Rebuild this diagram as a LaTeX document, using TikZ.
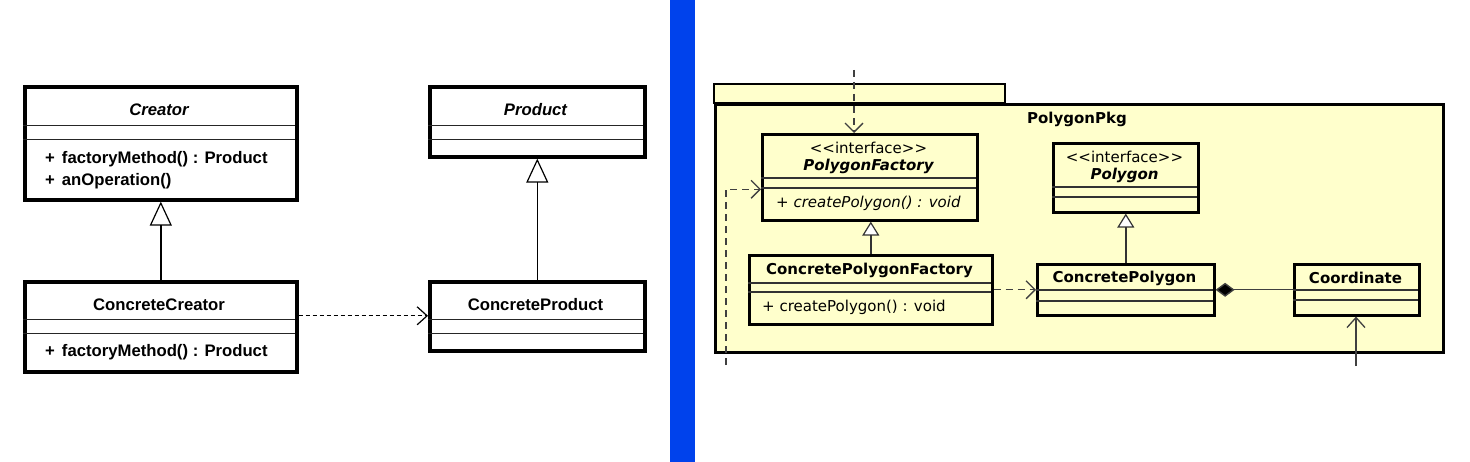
\documentclass[tikz,border=0pt]{standalone}
\usepackage{fontspec}
\setmainfont{Liberation Sans}
\newfontfamily\dvs{DejaVu Sans}
\usetikzlibrary{arrows.meta}
\definecolor{barblue}{RGB}{0,66,236}
\definecolor{pkgfill}{RGB}{255,255,204}
\begin{document}
\begin{tikzpicture}[x=1pt,y=-1pt,
  lbox/.style={draw=black, line width=3.6pt, fill=white, inner sep=0pt, anchor=north west},
  rbox/.style={draw=black, line width=2.6pt, fill=pkgfill, inner sep=0pt, anchor=north west},
  sepL/.style={line width=1pt, black!85},
  sepR/.style={line width=1.1pt, black!80},
  ltext/.style={inner sep=0pt, font=\fontsize{16.7}{20}\selectfont\bfseries},
  rtext/.style={inner sep=0pt, font=\dvs\fontsize{15}{18}\selectfont},
  rbold/.style={inner sep=0pt, font=\dvs\fontsize{15}{18}\selectfont\bfseries},
  genL/.style={line width=1.4pt, -{Triangle[open, length=24pt, width=22pt, line width=1.2pt, fill=white]}},
  genR/.style={line width=1.4pt, black!80, -{Triangle[open, length=14pt, width=17pt, line width=1.2pt, fill=white]}},
  depL/.style={line width=1.3pt, dash pattern=on 4pt off 3pt, -{Straight Barb[length=10pt, width=18pt, line width=1.2pt]}},
  depR/.style={line width=1.4pt, black!75, dash pattern=on 7pt off 5pt, -{Straight Barb[length=9pt, width=18pt, line width=1.3pt]}},
  assocR/.style={line width=1.4pt, black!75, -{Straight Barb[length=10pt, width=18pt, line width=1.3pt]}},
  compR/.style={line width=1.4pt, black!75, {Diamond[length=19pt, width=14pt, fill=black]}-}
]
\useasboundingbox (0,0) rectangle (1470,462);
\fill[white] (0,0) rectangle (1470,462);
% blue divider
\fill[barblue] (670,0) rectangle (695,462);

% ===== Left diagram =====
\node[lbox, minimum width=272pt, minimum height=113pt] (creator) at (23,85) {};
\draw[sepL] (23,126) -- (295,126);
\draw[sepL] (23,140) -- (295,140);
\node[ltext] (creatorName) at (159,110) {\itshape Creator};
\node[ltext, anchor=west] (creatorM1) at (45,159) {+\hspace{7pt}factoryMethod() : Product};
\node[ltext, anchor=west] (creatorM2) at (45,181) {+\hspace{7pt}anOperation()};

\node[lbox, minimum width=272pt, minimum height=90pt] (ccreator) at (23,280) {};
\draw[sepL] (23,320) -- (295,320);
\draw[sepL] (23,334) -- (295,334);
\node[ltext] (ccreatorName) at (159,305) {ConcreteCreator};
\node[ltext, anchor=west] (ccreatorM1) at (45,352) {+\hspace{7pt}factoryMethod() : Product};

\node[lbox, minimum width=215pt, minimum height=70pt] (product) at (428,85) {};
\draw[sepL] (428,126) -- (643,126);
\draw[sepL] (428,140) -- (643,140);
\node[ltext] (productName) at (535.5,110) {\itshape Product};

\node[lbox, minimum width=215pt, minimum height=69pt] (cproduct) at (428,280) {};
\draw[sepL] (428,320) -- (643,320);
\draw[sepL] (428,334) -- (643,334);
\node[ltext] (cproductName) at (535.5,305) {ConcreteProduct};

\draw[genL] (ccreator.north) -- (creator.south);
\draw[genL] (cproduct.north) -- (product.south);
\coordinate (depStart) at ([yshift=11pt]ccreator.east);
\draw[depL] (depStart) -- (depStart -| cproduct.west);

% ===== Right diagram =====
\draw[line width=2.6pt, fill=pkgfill] (714,84) rectangle (1005,103);
\node[draw=black, line width=2.6pt, fill=pkgfill, inner sep=0pt, anchor=north west,
      minimum width=728pt, minimum height=248pt] (pkg) at (714,103) {};
\node[rbold] (pkgName) at (1077,119) {PolygonPkg};

% PolygonFactory
\node[rbox, minimum width=215pt, minimum height=86pt] (pf) at (761,133) {};
\draw[sepR] (761,178) -- (976,178);
\draw[sepR] (761,188) -- (976,188);
\node[rtext] (pfSt) at (868.5,148) {<<interface>>};
\node[rbold] (pfName) at (868.5,166) {\itshape PolygonFactory};
\node[rtext, anchor=west] (pfM) at (776,203) {+ \itshape createPolygon() : void};

% ConcretePolygonFactory
\node[rbox, minimum width=243pt, minimum height=69pt] (cpf) at (748,254) {};
\draw[sepR] (748,283) -- (991,283);
\draw[sepR] (748,292) -- (991,292);
\node[rbold] (cpfName) at (869.5,270) {ConcretePolygonFactory};
\node[rtext, anchor=west] (cpfM) at (762,307) {+ createPolygon() : void};

% Polygon
\node[rbox, minimum width=145pt, minimum height=69pt] (poly) at (1052,142) {};
\draw[sepR] (1052,187) -- (1197,187);
\draw[sepR] (1052,197) -- (1197,197);
\node[rtext] (polySt) at (1124.5,157) {<<interface>>};
\node[rbold] (polyName) at (1124.5,175) {\itshape Polygon};

% ConcretePolygon
\node[rbox, minimum width=177pt, minimum height=51pt] (cpoly) at (1036,263) {};
\draw[sepR] (1036,290) -- (1213,290);
\draw[sepR] (1036,301) -- (1213,301);
\node[rbold] (cpolyName) at (1124.5,278) {ConcretePolygon};

% Coordinate
\node[rbox, minimum width=125pt, minimum height=51pt] (coord) at (1293,263) {};
\draw[sepR] (1293,290) -- (1418,290);
\draw[sepR] (1293,300) -- (1418,300);
\node[rbold] (coordName) at (1355.5,278) {Coordinate};

% connectors
\coordinate (topIn) at (854,70);
\coordinate (leftIn) at (726,365);
\coordinate (botIn) at (1356,366);
\draw[genR] (cpf.north) -- (cpf.north |- pf.south);
\draw[genR] (cpoly.north) -- (poly.south);
\draw[depR] (topIn) -- (topIn |- pf.north);
\draw[depR] (leftIn) |- ([yshift=-12pt]pf.west);
\draw[depR] (cpf.east) -- (cpoly.west);
\draw[compR] (cpoly.east) -- (coord.west);
\draw[assocR] (botIn) -- (botIn |- coord.south);
\end{tikzpicture}
\end{document}
